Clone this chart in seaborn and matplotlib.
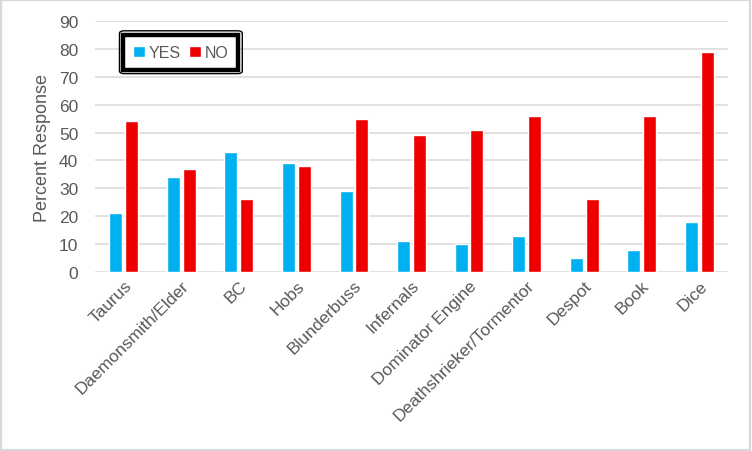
import numpy as np
import pandas as pd
import matplotlib
matplotlib.use('Agg')
import matplotlib.pyplot as plt
import seaborn as sns
from matplotlib.patches import Rectangle, FancyBboxPatch

categories = ['Taurus', 'Daemonsmith/Elder', 'BC', 'Hobs', 'Blunderbuss', 'Infernals',
              'Dominator Engine', 'Deathshrieker/Tormentor', 'Despot', 'Book', 'Dice']
yes_vals = [21, 34, 43, 39, 29, 11, 10, 13, 5, 8, 18]
no_vals = [54, 37, 26, 38, 55, 49, 51, 56, 26, 56, 79]
series = ['YES', 'NO']
colors = {'YES': '#00B0F0', 'NO': '#EE0000'}
y_ticks = list(range(0, 100, 10))

df = pd.DataFrame({
    'category': categories * 2,
    'response': ['YES'] * len(categories) + ['NO'] * len(categories),
    'value': yes_vals + no_vals,
})

sns.set_theme(style='white')
plt.rcParams['font.family'] = ['Liberation Sans', 'DejaVu Sans']
text_color = '#595959'
grid_color = '#D9D9D9'

fig = plt.figure(figsize=(7.52, 4.52), dpi=100)
ax = fig.add_axes([95 / 752, 1 - 273 / 452, 633 / 752, 251 / 452])

sns.barplot(data=df, x='category', y='value', hue='response', hue_order=series,
            palette=colors, width=0.55, gap=0.18, saturation=1, ax=ax, legend=True)

ax.set_ylim(0, 90)
ax.set_yticks(y_ticks)
ax.set_xlim(-0.5, len(categories) - 0.5)
for t in y_ticks:
    ax.axhline(t, color=grid_color, linewidth=1.1, zorder=0)
for s in ax.spines.values():
    s.set_visible(False)
ax.tick_params(axis='both', length=0, colors=text_color, labelsize=12.5)
ax.tick_params(axis='y', pad=12)
ax.tick_params(axis='x', pad=4)
plt.setp(ax.get_xticklabels(), rotation=45, ha='right', rotation_mode='anchor')
ax.set_xlabel('')
ax.set_ylabel('Percent Response', color=text_color, fontsize=13, labelpad=6)

handles, labels = ax.get_legend_handles_labels()
leg = ax.legend(handles, labels, loc='upper left', bbox_to_anchor=(0.045, 0.945),
                ncol=2, frameon=True, fontsize=11.5, handlelength=0.7, handleheight=0.7,
                handletextpad=0.25, columnspacing=0.55, borderpad=0.62, borderaxespad=0,
                fancybox=False)
for txt in leg.get_texts():
    txt.set_color(text_color)
frame = leg.get_frame()
frame.set_edgecolor('black')
frame.set_linewidth(3.2)
frame.set_facecolor('white')
frame.set_alpha(1)

fig.canvas.draw()
bb = leg.get_window_extent().transformed(fig.transFigure.inverted())
pad_x, pad_y = 4 / 752, 4 / 452
outer = FancyBboxPatch((bb.x0 - pad_x, bb.y0 - pad_y), bb.width + 2 * pad_x, bb.height + 2 * pad_y,
                       boxstyle='round,pad=0,rounding_size=0.006', transform=fig.transFigure,
                       fill=False, edgecolor='black', linewidth=1.0, zorder=10)
fig.patches.append(outer)

fig.patches.append(Rectangle((0.001, 0.002), 0.997, 0.995, transform=fig.transFigure,
                             fill=False, edgecolor=grid_color, linewidth=1.6))

fig.savefig('out.png', dpi=100)
